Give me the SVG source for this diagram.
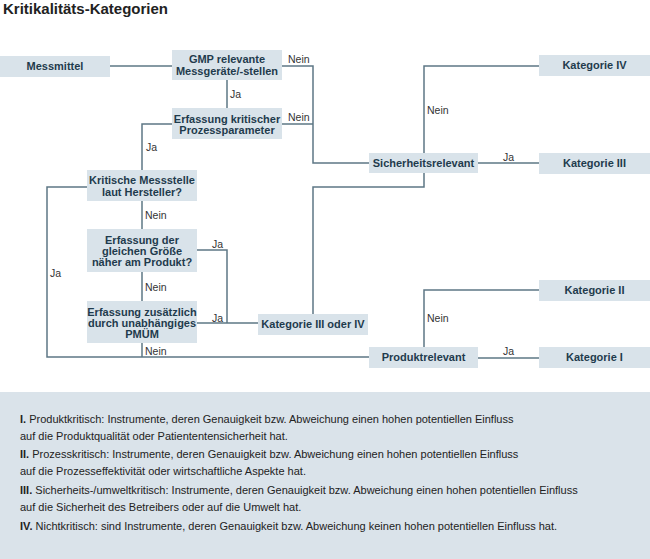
<svg xmlns="http://www.w3.org/2000/svg" width="650" height="559" viewBox="0 0 650 559">
<style>
.box{fill:#d9e3ea}
.nt{font-family:"Liberation Sans",Arial,sans-serif;font-weight:bold;font-size:11px;fill:#1f3b4d;text-anchor:middle}
.lb{font-family:"Liberation Sans",Arial,sans-serif;font-size:10.5px;fill:#333}
.ln{fill:none;stroke:#5d7785;stroke-width:1.5}
.lg{font-family:"Liberation Sans",Arial,sans-serif;font-size:11px;fill:#222}
.b{font-weight:bold}
</style>
<rect width="650" height="559" fill="#fff"/>
<text x="3" y="14" style="font-family:'Liberation Sans',Arial,sans-serif;font-weight:bold;font-size:15px;fill:#222">Kritikalitäts-Kategorien</text>
<g id="connectors">
<path class="ln" d="M110,66 H172"/>
<path class="ln" d="M282,66 H313 V163 H369"/>
<path class="ln" d="M282,124 H313"/>
<path class="ln" d="M227,80 V108"/>
<path class="ln" d="M172,124 H142 V170"/>
<path class="ln" d="M142,201 V229"/>
<path class="ln" d="M87,187 H47 V357 H369"/>
<path class="ln" d="M142,272 V301"/>
<path class="ln" d="M142,343 V357"/>
<path class="ln" d="M196,250 H227 V323"/>
<path class="ln" d="M196,323 H258"/>
<path class="ln" d="M313,314 V187 H424 V173"/>
<path class="ln" d="M424,153 V66 H539"/>
<path class="ln" d="M478,163 H539"/>
<path class="ln" d="M424,347 V290 H539"/>
<path class="ln" d="M478,358 H539"/>
<text class="lb" x="288" y="63">Nein</text>
<text class="lb" x="230" y="98">Ja</text>
<text class="lb" x="288" y="121">Nein</text>
<text class="lb" x="146" y="151">Ja</text>
<text class="lb" x="145" y="219">Nein</text>
<text class="lb" x="212" y="248">Ja</text>
<text class="lb" x="145" y="291">Nein</text>
<text class="lb" x="212" y="322">Ja</text>
<text class="lb" x="145" y="355">Nein</text>
<text class="lb" x="50" y="277">Ja</text>
<text class="lb" x="427" y="114">Nein</text>
<text class="lb" x="503" y="161">Ja</text>
<text class="lb" x="427" y="322">Nein</text>
<text class="lb" x="503" y="355">Ja</text>
</g>
<g id="messmittel"><rect class="box" x="0" y="56" width="110" height="21"/><text class="nt" x="55" y="70">Messmittel</text></g>
<g id="gmp"><rect class="box" x="172" y="50" width="110" height="30"/><text class="nt" x="227" y="63">GMP relevante</text><text class="nt" x="227" y="75">Messgeräte/-stellen</text></g>
<g id="erfassung-kritisch"><rect class="box" x="172" y="108" width="110" height="31"/><text class="nt" x="227" y="123">Erfassung kritischer</text><text class="nt" x="227" y="134">Prozessparameter</text></g>
<g id="kritische-messstelle"><rect class="box" x="87" y="170" width="110" height="31"/><text class="nt" x="142" y="184">Kritische Messstelle</text><text class="nt" x="142" y="196">laut Hersteller?</text></g>
<g id="gleiche-groesse"><rect class="box" x="87" y="229" width="110" height="43"/><text class="nt" x="142" y="244">Erfassung der</text><text class="nt" x="142" y="255">gleichen Größe</text><text class="nt" x="142" y="266">näher am Produkt?</text></g>
<g id="zusaetzlich"><rect class="box" x="87" y="301" width="110" height="42"/><text class="nt" x="142" y="316">Erfassung zusätzlich</text><text class="nt" x="142" y="327">durch unabhängiges</text><text class="nt" x="142" y="338">PMÜM</text></g>
<g id="kat-iii-iv"><rect class="box" x="258" y="314" width="110" height="21"/><text class="nt" x="313" y="328">Kategorie III oder IV</text></g>
<g id="sicherheitsrelevant"><rect class="box" x="369" y="153" width="109" height="20"/><text class="nt" x="423.5" y="167">Sicherheitsrelevant</text></g>
<g id="produktrelevant"><rect class="box" x="369" y="347" width="109" height="21"/><text class="nt" x="423.5" y="361">Produktrelevant</text></g>
<g id="kat-iv"><rect class="box" x="539" y="55" width="111" height="21"/><text class="nt" x="594.5" y="69">Kategorie IV</text></g>
<g id="kat-iii"><rect class="box" x="539" y="153" width="111" height="21"/><text class="nt" x="594.5" y="167">Kategorie III</text></g>
<g id="kat-ii"><rect class="box" x="539" y="280" width="111" height="21"/><text class="nt" x="594.5" y="294">Kategorie II</text></g>
<g id="kat-i"><rect class="box" x="539" y="347" width="111" height="21"/><text class="nt" x="594.5" y="361">Kategorie I</text></g>
<g id="legend">
<rect x="0" y="392" width="650" height="167" fill="#dae3ea"/>
<text class="lg" x="20" y="423"><tspan class="b">I.</tspan> Produktkritisch: Instrumente, deren Genauigkeit bzw. Abweichung einen hohen potentiellen Einfluss</text>
<text class="lg" x="20" y="440">auf die Produktqualität oder Patiententensicherheit hat.</text>
<text class="lg" x="20" y="458"><tspan class="b">II.</tspan> Prozesskritisch: Instrumente, deren Genauigkeit bzw. Abweichung einen hohen potentiellen Einfluss</text>
<text class="lg" x="20" y="475">auf die Prozesseffektivität oder wirtschaftliche Aspekte hat.</text>
<text class="lg" x="20" y="494"><tspan class="b">III.</tspan> Sicherheits-/umweltkritisch: Instrumente, deren Genauigkeit bzw. Abweichung einen hohen potentiellen Einfluss</text>
<text class="lg" x="20" y="511">auf die Sicherheit des Betreibers oder auf die Umwelt hat.</text>
<text class="lg" x="20" y="530"><tspan class="b">IV.</tspan> Nichtkritisch: sind Instrumente, deren Genauigkeit bzw. Abweichung keinen hohen potentiellen Einfluss hat.</text>
</g>
</svg>
